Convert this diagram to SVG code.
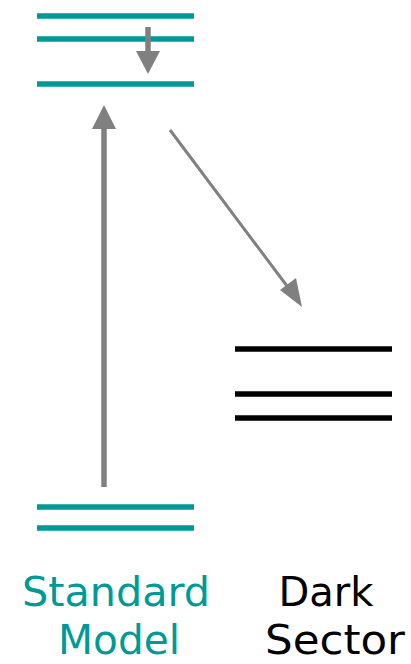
<svg xmlns="http://www.w3.org/2000/svg" width="411" height="664" viewBox="0 0 411 664">
<style>
.sm{stroke:#009a96;stroke-width:5.5}
.ds{stroke:#000;stroke-width:5.5}
.ar{stroke:#808080;fill:none}
text{font-family:"DejaVu Sans","Liberation Sans",sans-serif;font-size:40px;text-anchor:middle}
</style>
<rect width="411" height="664" fill="#fff"/>
<g id="sm-levels">
<line class="sm" x1="37" y1="16" x2="194" y2="16"/>
<line class="sm" x1="37" y1="39" x2="194" y2="39"/>
<line class="sm" x1="37" y1="84" x2="194" y2="84"/>
<line class="sm" x1="37" y1="507" x2="194" y2="507"/>
<line class="sm" x1="37" y1="528" x2="194" y2="528"/>
</g>
<g id="ds-levels">
<line class="ds" x1="235" y1="349" x2="392" y2="349"/>
<line class="ds" x1="235" y1="394" x2="392" y2="394"/>
<line class="ds" x1="235" y1="418" x2="392" y2="418"/>
</g>
<g id="connectors">
<line class="ar" stroke-width="5.5" x1="148" y1="27" x2="148" y2="54"/>
<polygon fill="#808080" points="136,51 160,51 148,74"/>
<line class="ar" stroke-width="5.5" x1="104" y1="487" x2="104" y2="126"/>
<polygon fill="#808080" points="92,129 116,129 104,105"/>
<line class="ar" stroke-width="3" x1="170" y1="130" x2="290" y2="290"/>
<polygon fill="#808080" points="302,307 280,290 296,278"/>
</g>
<g id="labels">
<text x="116" y="606" fill="#009a96" textLength="188" lengthAdjust="spacingAndGlyphs">Standard</text>
<text x="119" y="654" fill="#009a96" textLength="122" lengthAdjust="spacingAndGlyphs">Model</text>
<text x="326" y="606" fill="#000" textLength="95" lengthAdjust="spacingAndGlyphs">Dark</text>
<text x="335" y="654" fill="#000" textLength="140" lengthAdjust="spacingAndGlyphs">Sector</text>
</g>
</svg>
